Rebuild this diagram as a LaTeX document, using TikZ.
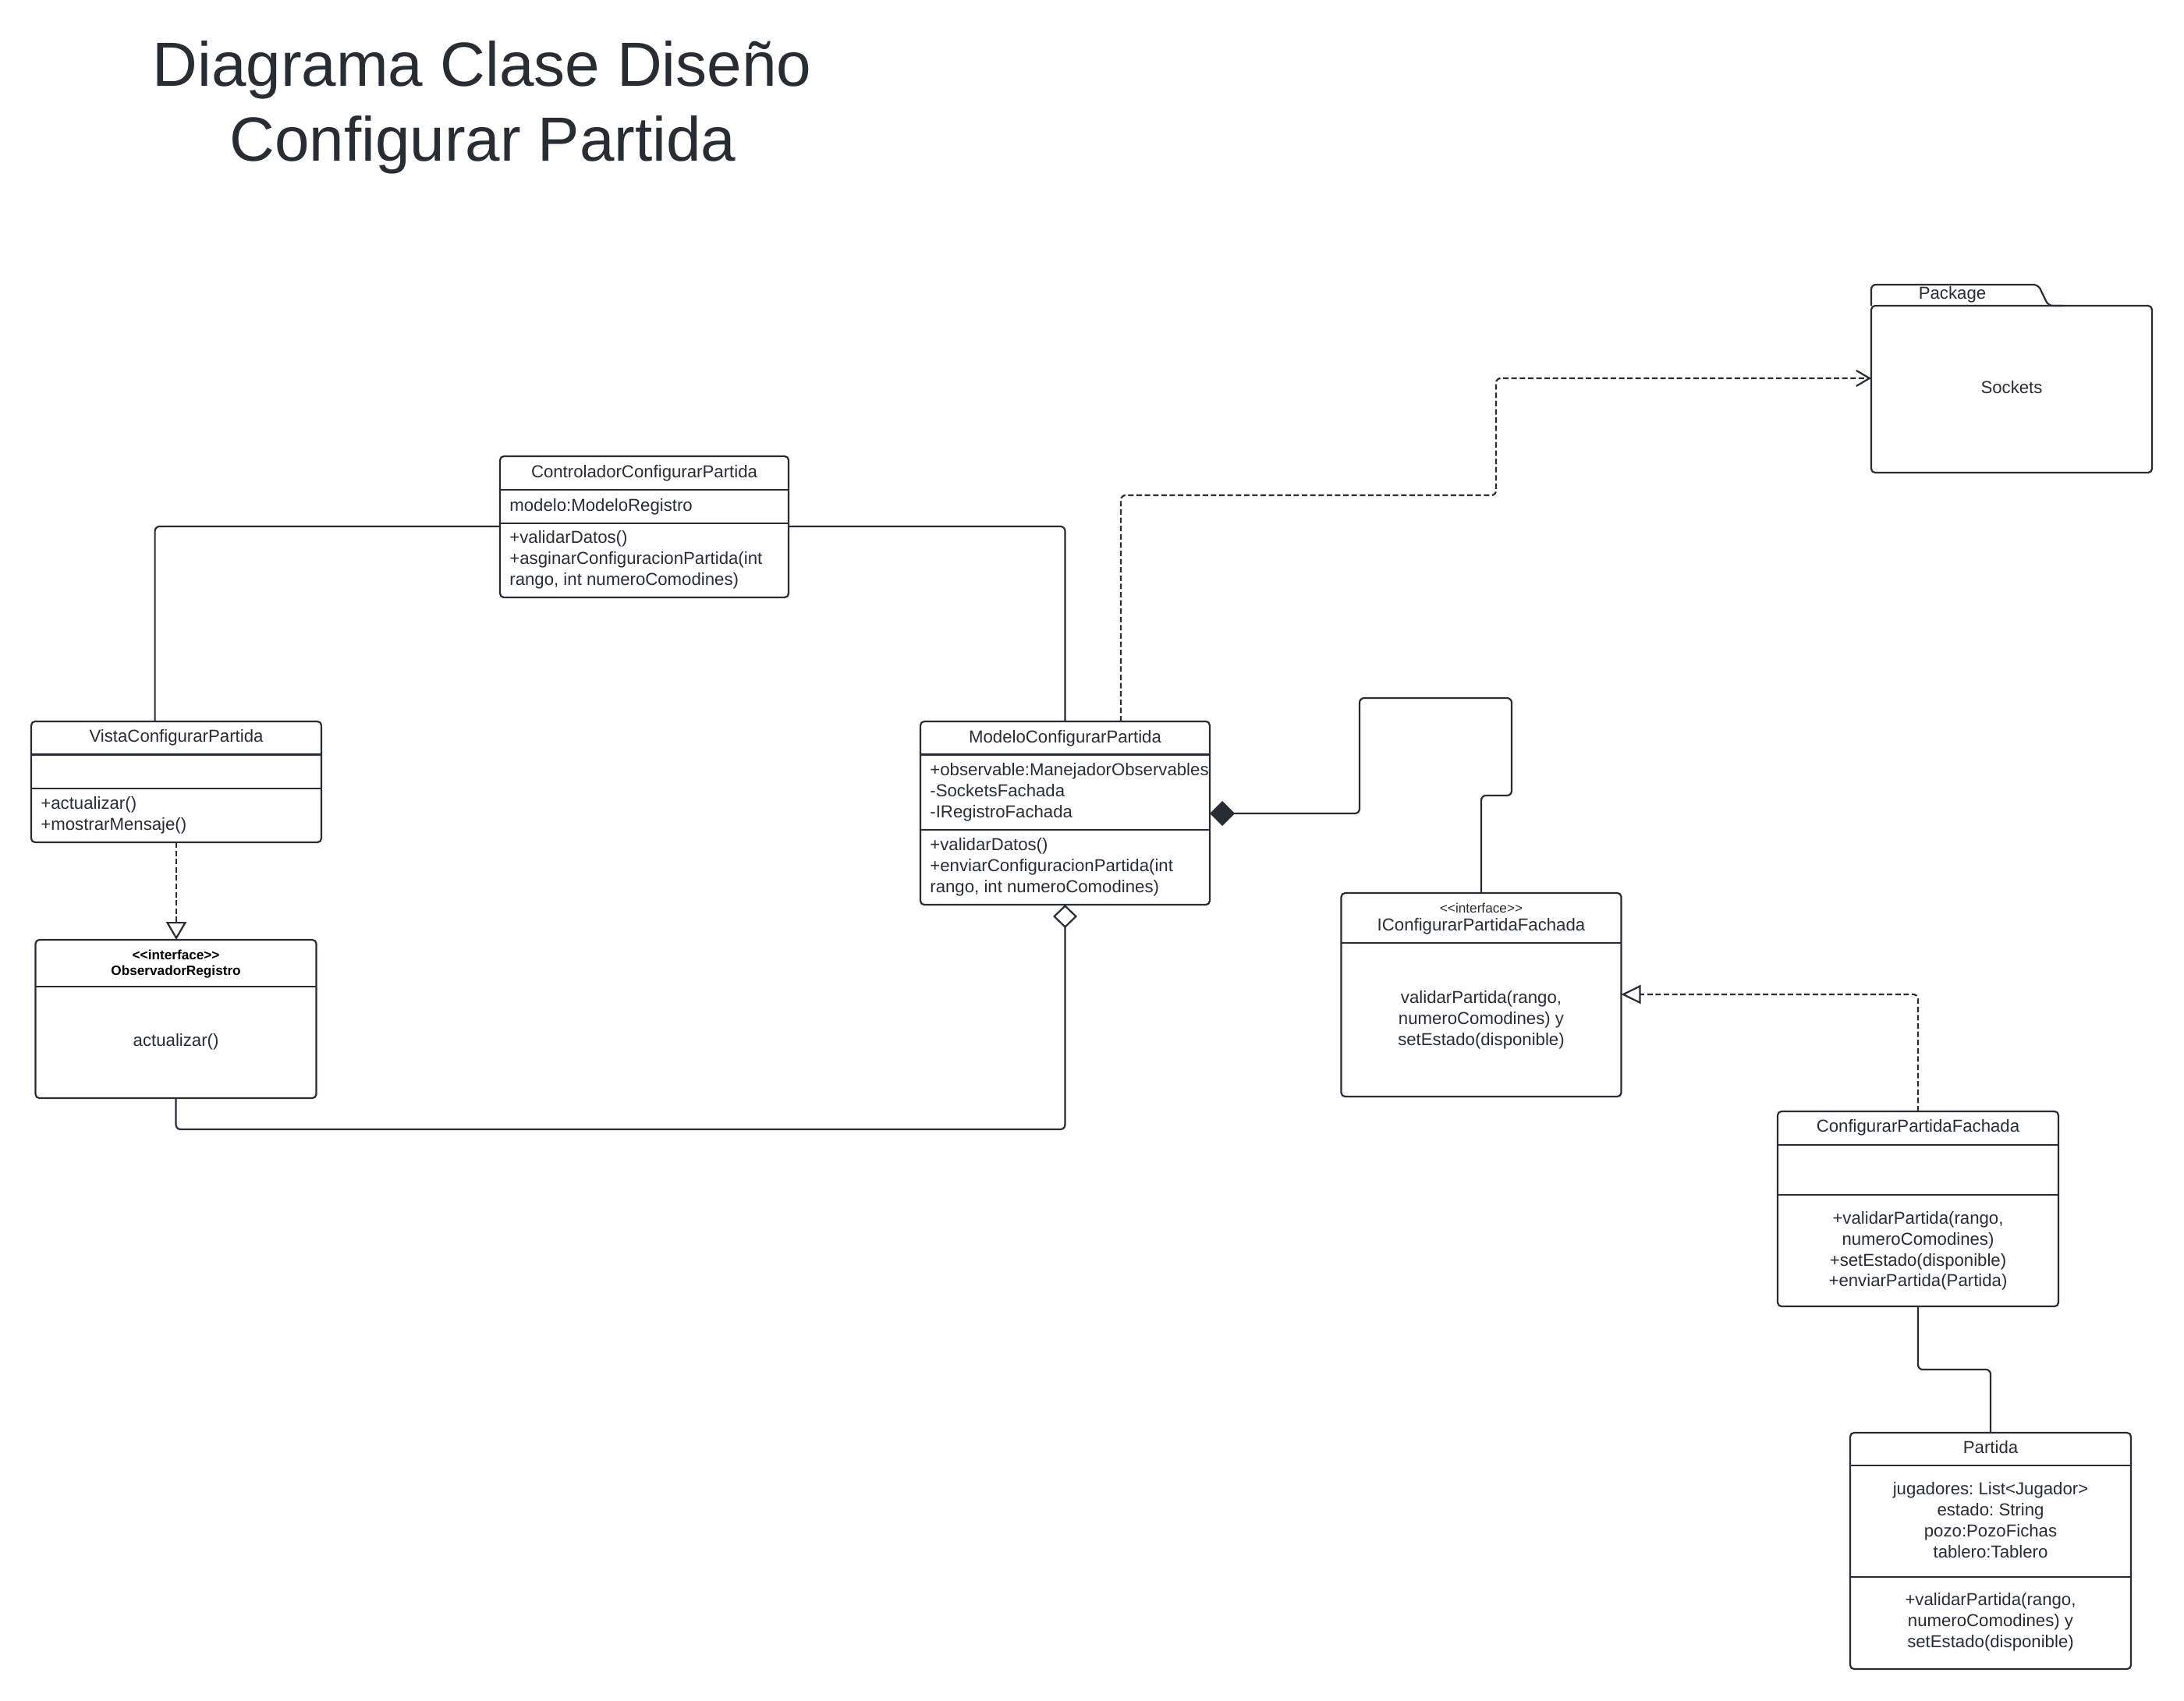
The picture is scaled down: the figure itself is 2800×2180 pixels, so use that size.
\documentclass[tikz,border=0pt]{standalone}
\usepackage{fontspec}
\setmainfont{Liberation Sans}
\usetikzlibrary{arrows.meta}
\definecolor{ink}{HTML}{282C33}
\newcommand\umlfont{\fontsize{11.1pt}{13.4pt}\selectfont\frenchspacing}
\newcommand\stfont{\fontsize{8.6pt}{10pt}\selectfont}
\newcommand\umlbox[5]{\node[box, minimum width=#4*0.5pt, minimum height=#5*0.5pt] (#1) at (#2,#3) {};}
\newcommand\hsepl[2]{\draw[sepline] (#1.west |- 0,#2) -- (#1.east |- 0,#2);}
\begin{document}
\begin{tikzpicture}[x=0.5pt,y=-0.5pt,
  box/.style={draw=ink, line width=1.1pt, rounded corners=2.5pt, inner sep=0pt, outer sep=0pt, anchor=north west, fill=white},
  sepline/.style={draw=ink, line width=1.1pt},
  conn/.style={draw=ink, line width=1.1pt, rounded corners=3pt},
  dashconn/.style={conn, dash pattern=on 3.5pt off 1.8pt},
  ttl/.style={text=ink, inner sep=0pt, font=\fontsize{40pt}{48pt}\selectfont, anchor=base},
  txt/.style={text=ink, inner sep=0pt, font=\umlfont, yshift=-1pt},
  ltxt/.style={txt, align=left, anchor=west},
  ctxt/.style={txt, align=center},
  sttxt/.style={txt, font=\bfseries\stfont, text=black}]
\useasboundingbox (0,0) rectangle (2800,2180);
\fill[white] (0,0) rectangle (2800,2180);

% title
\node[ttl] (t1) at (618,110) {Diagrama Clase Diseño};
\node[ttl] (t2) at (619,206) {Configurar Partida};

% boxes
\umlbox{ctrl}{641}{585}{370}{181}
\umlbox{vista}{40}{925}{372}{155}
\umlbox{obs}{45.5}{1205}{360}{203}
\umlbox{modelo}{1180}{925}{371}{235}
\umlbox{iface}{1719.5}{1145}{359}{261}
\umlbox{cpf}{2279}{1425}{360}{250}
\umlbox{partida}{2372}{1837}{360}{303}
\umlbox{pkg}{2399}{392}{360}{214}

% separators
\hsepl{ctrl}{628}\hsepl{ctrl}{671}
\hsepl{vista}{967.5}\hsepl{vista}{1011}
\hsepl{obs}{1265}
\hsepl{modelo}{967.5}\hsepl{modelo}{1064}
\hsepl{iface}{1209}
\hsepl{cpf}{1468}\hsepl{cpf}{1532}
\hsepl{partida}{1879}\hsepl{partida}{2022}

% package tab
\draw[sepline, rounded corners=3pt] (pkg.north west) -- (2399,365) -- (2613,365) -- (2626,392) -- (2645,392);

% texts
\node[ctxt] (ctrlN) at (826,605) {ControladorConfigurarPartida};
\node[ltxt] (ctrlA) at (653,647.5) {modelo:ModeloRegistro};
\node[ltxt] (ctrlM) at (653,716) {+validarDatos()\\+asginarConfiguracionPartida(int\\rango, int numeroComodines)};

\node[ctxt] (vistaN) at (226,944) {VistaConfigurarPartida};
\node[ltxt] (vistaM) at (52,1043) {+actualizar()\\+mostrarMensaje()};

\node[sttxt] (obsS) at (225.6,1222.5) {<{}<interface>{}>};
\node[sttxt] (obsN) at (225.6,1243.6) {ObservadorRegistro};
\node[ctxt] (obsM) at (225.6,1334) {actualizar()};

\node[ctxt] (modN) at (1365.5,945) {ModeloConfigurarPartida};
\node[ltxt] (modA) at (1192,1013.5) {+observable:ManejadorObservables\\-SocketsFachada\\-IRegistroFachada};
\node[ltxt] (modM) at (1192,1109.5) {+validarDatos()\\+enviarConfiguracionPartida(int\\rango, int numeroComodines)};

\node[txt, font=\fontsize{8.6pt}{10pt}\selectfont] (ifS) at (1899,1162) {<{}<interface>{}>};
\node[ctxt] (ifN) at (1899,1186) {IConfigurarPartidaFachada};
\node[ctxt] (ifM) at (1899,1305.5) {validarPartida(rango,\\numeroComodines) y\\setEstado(disponible)};

\node[ctxt] (cpfN) at (2459,1444) {ConfigurarPartidaFachada};
\node[ctxt] (cpfM) at (2459,1602) {+validarPartida(rango,\\numeroComodines)\\+setEstado(disponible)\\+enviarPartida(Partida)};

\node[ctxt] (parN) at (2552,1854) {Partida};
\node[ctxt] (parA) at (2552,1947) {jugadores: List<Jugador>\\estado: String\\pozo:PozoFichas\\tablero:Tablero};
\node[ctxt] (parM) at (2552,2078) {+validarPartida(rango,\\numeroComodines) y\\setEstado(disponible)};

\node[txt] (pkgT) at (2503,376) {Package};
\node[txt] (pkgS) at (2579,495) {Sockets};

% connectors
\coordinate (a1) at (198.6,675);
\draw[conn] (ctrl.west |- a1) -| (vista.north -| a1);
\draw[conn] (ctrl.east |- a1) -| (modelo.north);

\draw[dashconn, -{Triangle[open, length=11.5pt, width=13pt]}] (vista.south) -- (vista.south |- obs.north);

\coordinate (a2) at (800,1448);
\draw[conn, -{Diamond[open, length=15pt, width=15.5pt]}] (obs.south) |- (a2) -| (modelo.south);

\coordinate (b0) at (1743,1043);
\coordinate (b1) at (1938,895);
\coordinate (b2) at (1938,1020);
\draw[conn, -{Diamond[length=16pt, width=16pt]}] (iface.north) -- (iface.north |- b2) -| (b1) -| (b0) -- (modelo.east |- b0);

\coordinate (c1) at (1437,635);
\coordinate (c2) at (1918,485);
\draw[dashconn, -{Straight Barb[length=8.5pt, width=10pt]}] (modelo.north -| c1) -- (c1) -| (c2) -- (pkg.west |- c2);

\coordinate (d1) at (2459,1275);
\draw[dashconn, -{Triangle[open, length=12.5pt, width=12pt]}] (cpf.north) |- (iface.east |- d1);

\coordinate (e1) at (2500,1756);
\draw[conn] (cpf.south) |- (e1) -| (partida.north);
\end{tikzpicture}
\end{document}
